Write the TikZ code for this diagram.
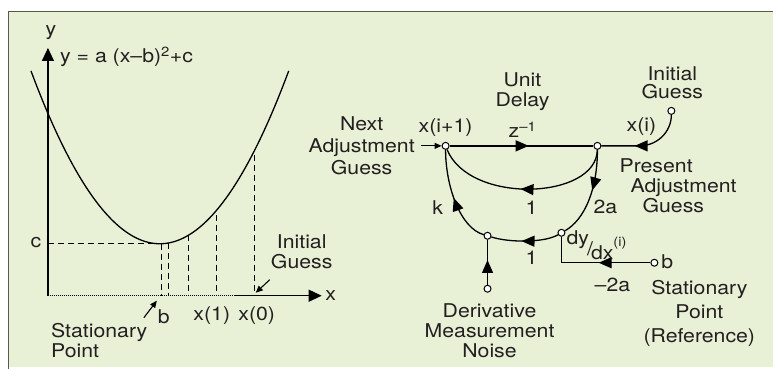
\documentclass[tikz,border=0pt]{standalone}
\usepackage{fontspec}
\setmainfont{TeX Gyre Heros}[FakeStretch=1.12]
\usepackage{tikz}
\usetikzlibrary{positioning, arrows.meta, decorations.markings}
\definecolor{panel}{RGB}{232,241,214}
\definecolor{frame}{RGB}{88,90,82}
\definecolor{ink}{RGB}{35,31,32}

\begin{document}
\begin{tikzpicture}[x=1pt, y=-1pt,
    lbl/.style={font=\fontsize{19}{20}\selectfont, text=ink, inner sep=0pt, align=center},
    nd/.style={draw, circle, fill=white, inner sep=0pt, minimum size=7pt, line width=1pt},
    wire/.style={line width=1.3pt},
    flow/.style={wire, postaction={decorate}, decoration={markings,
        mark=at position #1 with {\arrow{Triangle[length=13pt, width=11pt]}}}},
    guide/.style={line width=1.1pt, dash pattern=on 6pt off 4pt},
    pointer/.style={line width=1.1pt, -{Triangle[length=7pt, width=6pt]}},
]
% Panel
\fill[white] (0,0) rectangle (774,369);
\fill[panel] (8,11) rectangle (774,367);
\draw[frame, line width=1.5pt] (8.5,369) -- (8.5,11.5) -- (774,11.5);
\useasboundingbox (0,0) rectangle (774,369);

% Axes
\coordinate (o) at (48,296);
\coordinate (ytip) at (48,48);
\coordinate (xsolid) at (235,296);
\coordinate (xtip) at (322,296);
\draw[wire, -{Triangle[length=13pt, width=12pt]}] (o) -- (ytip);
\draw[line width=0.8pt, dash pattern=on 1pt off 1pt] (o) -- (xsolid);
\draw[wire, -{Triangle[length=13pt, width=12pt]}] (xsolid) -- (xtip);

% Parabola and guide lines
\draw[wire] plot[domain=31:289, samples=80, smooth] (\x, {244 - 1.04*((\x-160)/10)^2});
\draw[guide] (o |- 0,244) -- (160,244);
\foreach \px/\py in {162/244, 169/243, 189/235, 217/215, 255/155}
  \draw[guide] (\px,\py) -- (\px,296);

% Plot labels
\node[lbl] (ylab) at (51,33) {y};
\node[lbl, anchor=west] (curve) at (60,57) {y = a (x–b)\textsuperscript{2}+c};
\node[lbl] (clab) at (36,243) {c};
\node[lbl] (xlab) at (331,296) {x};
\node[lbl] (blab) at (164,317) {b};
\node[lbl] (x1lab) at (212,316) {x(1)};
\node[lbl] (x0lab) at (257,316) {x(0)};
\node[lbl, anchor=north west, align=left] (statl) at (51,323) {Stationary\\Point};
\node[lbl, anchor=north] (initl) at (302,235) {Initial\\Guess};
\coordinate (stail) at (144,318);
\coordinate (shead) at (157,301);
\coordinate (itail) at (270,280);
\coordinate (ihead) at (256,293);
\draw[pointer] (stail) -- (shead);
\draw[pointer] (itail) -- (ihead);

% Signal flow graph: nodes
\node[nd] (n1) at (446,146) {};
\node[nd] (n2) at (598,146) {};
\node[nd] (ig) at (672,111) {};
\node[nd] (n3) at (488,236) {};
\node[nd] (n4) at (562,233) {};
\node[nd] (nz) at (488,289) {};
\node[nd] (bref) at (655,263) {};
\coordinate (igbend) at (640,146);
\coordinate (bcorner) at (562,263);
\coordinate (nextin) at (421,146);

% Branches
\draw[flow=0.55] (n1) -- (n2);
\draw[flow=0.62] (ig) to[out=-90, in=0] (igbend) -- (n2);
\draw[flow=0.52] (n2) .. controls (597,200) and (470,205) .. (n1);
\draw[flow=0.45] (n2) .. controls (598,190) and (585,220) .. (n4);
\draw[flow=0.55] (n4) .. controls (545,243) and (510,243) .. (n3);
\draw[flow=0.5] (n3) .. controls (460,228) and (446,185) .. (n1);
\draw[flow=0.55] (nz) -- (n3);
\draw[flow=0.45] (bref) -- (bcorner) -- (n4);
\draw[pointer] (nextin) -- (n1);

% Graph labels
\node[lbl, anchor=north] (nextl) at (362,117) {Next\\[2pt]Adjustment\\[2pt]Guess};
\node[lbl] (xi1) at (446,128) {x(i+1)};
\node[lbl, anchor=north] (delay) at (523,73) {Unit\\Delay};
\node[lbl] (zinv) at (523,130) {z\textsuperscript{–1}};
\node[lbl, anchor=north] (initr) at (673,67) {Initial\\[-2pt]Guess};
\node[lbl] (xi) at (642,127) {x(i)};
\node[lbl, anchor=north west, align=left] (present) at (620,159)
  {Present\\\hspace*{11pt}Adjustment\\\hspace*{23pt}Guess};
\node[lbl] (g1) at (532,208) {1};
\node[lbl] (g2a) at (606,207) {2a};
\node[lbl] (gk) at (438,208) {k};
\node[lbl] (g1b) at (532,258) {1};
\node[lbl, anchor=base west] (dydx) at (567,256)
  {\raisebox{11pt}{dy}\kern-2pt/\kern-2pt\raisebox{-4pt}{dx}\raisebox{9pt}{\fontsize{13}{13}\selectfont(i)}};
\node[lbl] (blab2) at (668,262) {b};
\node[lbl] (gm2a) at (613,285) {–2a};
\node[lbl, anchor=north] (statr) at (700,280) {Stationary\\[4pt]Point\\[4pt](Reference)};
\node[lbl, anchor=north] (noise) at (490,304) {Derivative\\Measurement\\Noise};
\end{tikzpicture}
\end{document}
